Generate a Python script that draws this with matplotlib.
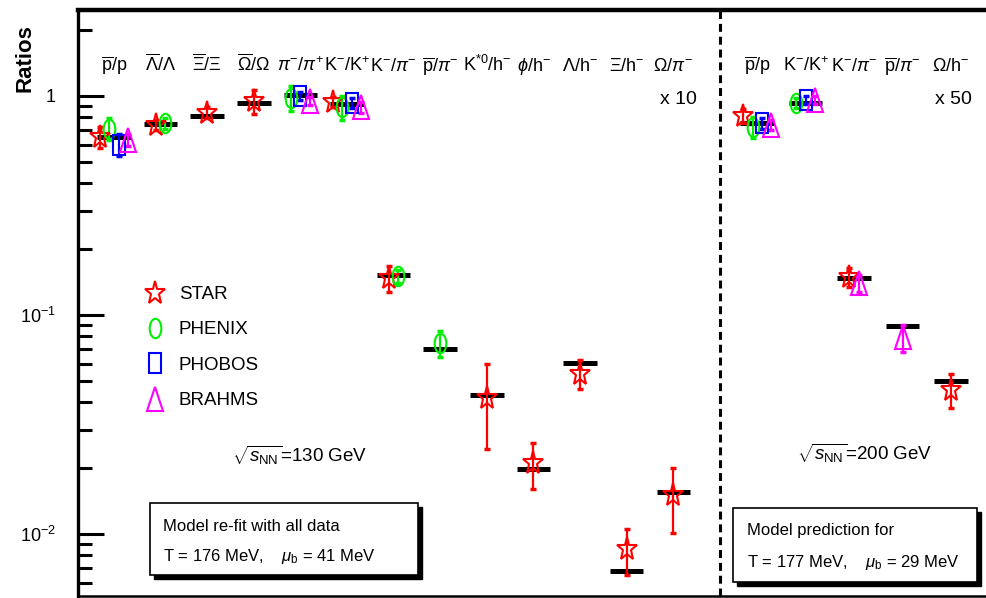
import numpy as np
import matplotlib
matplotlib.use("Agg")
import matplotlib.pyplot as plt
from matplotlib import font_manager
from matplotlib.lines import Line2D
from matplotlib.markers import MarkerStyle
from matplotlib.patches import Rectangle
from matplotlib.transforms import Affine2D

nan = np.nan

# --- particle ratios, sqrt(s_NN) = 130 GeV (left) and 200 GeV (right) ---
LABELS_130 = [r"$\overline{\mathrm{p}}/\mathrm{p}$", r"$\overline{\Lambda}/\Lambda$",
              r"$\overline{\Xi}/\Xi$", r"$\overline{\Omega}/\Omega$",
              r"$\pi^{-}/\pi^{+}$", r"$\mathrm{K}^{-}/\mathrm{K}^{+}$",
              r"$\mathrm{K}^{-}/\pi^{-}$", r"$\overline{\mathrm{p}}/\pi^{-}$",
              r"$\mathrm{K}^{*0}/\mathrm{h}^{-}$", r"$\phi/\mathrm{h}^{-}$",
              r"$\Lambda/\mathrm{h}^{-}$", r"$\Xi/\mathrm{h}^{-}$", r"$\Omega/\pi^{-}$"]
LABELS_200 = [r"$\overline{\mathrm{p}}/\mathrm{p}$", r"$\mathrm{K}^{-}/\mathrm{K}^{+}$",
              r"$\mathrm{K}^{-}/\pi^{-}$", r"$\overline{\mathrm{p}}/\pi^{-}$",
              r"$\Omega/\mathrm{h}^{-}$"]

MODEL_130 = [0.65, 0.745, 0.81, 0.93, 1.01, 0.92, 0.152, 0.070, 0.043, 0.0198, 0.0604, 0.0068, 0.0156]
MODEL_200 = [0.75, 0.93, 0.148, 0.089, 0.050]

STAR_130 = [0.65, 0.74, 0.84, 0.95, nan, 0.94, 0.148, nan, 0.042, 0.021, 0.054, 0.0085, 0.0151]
STAR_130_ERR = [0.07, 0.04, 0.05, 0.12, nan, 0.05, 0.02, nan, 0.0175, 0.005, 0.008, 0.002, 0.005]
PHENIX_130 = [0.71, 0.75, nan, nan, 0.98, 0.89, 0.150, 0.0745, nan, nan, nan, nan, nan]
PHENIX_130_ERR = [0.08, 0.04, nan, nan, 0.13, 0.11, 0.01, 0.01, nan, nan, nan, nan, nan]
PHOBOS_130 = [0.60, nan, nan, nan, 1.00, 0.93, nan, nan, nan, nan, nan, nan, nan]
PHOBOS_130_ERR = [0.07, nan, nan, nan, 0.04, 0.05, nan, nan, nan, nan, nan, nan, nan]
BRAHMS_130 = [0.63, nan, nan, nan, 0.95, 0.89, nan, nan, nan, nan, nan, nan, nan]
BRAHMS_130_ERR = [0.04, nan, nan, nan, 0.04, 0.05, nan, nan, nan, nan, nan, nan, nan]

STAR_200 = [0.81, nan, 0.149, nan, 0.0455]
STAR_200_ERR = [0.06, nan, 0.015, nan, 0.008]
PHENIX_200 = [0.72, 0.93, nan, nan, nan]
PHENIX_200_ERR = [0.08, 0.05, nan, nan, nan]
PHOBOS_200 = [0.75, 0.96, nan, nan, nan]
PHOBOS_200_ERR = [0.04, 0.04, nan, nan, nan]
BRAHMS_200 = [0.74, 0.96, 0.140, 0.079, nan]
BRAHMS_200_ERR = [0.04, 0.04, 0.012, 0.011, nan]

YTICKS = [0.01, 0.1, 1]
YTICK_LABELS = [r"$10^{-2}$", r"$10^{-1}$", "1"]

# fonts: Helvetica-like, narrow cut if there is one
names = {f.name for f in font_manager.fontManager.ttflist}
NARROW = "Liberation Sans Narrow" if "Liberation Sans Narrow" in names else "Liberation Sans"
plt.rcParams["font.family"] = [NARROW, "DejaVu Sans"]
plt.rcParams["mathtext.fontset"] = "custom"
plt.rcParams["mathtext.rm"] = NARROW
plt.rcParams["mathtext.it"] = NARROW + ":italic"
plt.rcParams["mathtext.bf"] = NARROW + ":bold"
plt.rcParams["mathtext.sf"] = NARROW

EXPERIMENTS = [
    ("STAR", "#ff0000", MarkerStyle("*", transform=Affine2D().scale(0.85, 1.0)), 17),
    ("PHENIX", "#00ee00", MarkerStyle("o", transform=Affine2D().scale(0.6, 1.0)), 14),
    ("PHOBOS", "#0000ff", MarkerStyle("s", transform=Affine2D().scale(0.65, 1.0)), 14),
    ("BRAHMS", "#ff00ff", MarkerStyle("^", transform=Affine2D().scale(0.7, 1.0)), 17),
]
DATA_130 = [(STAR_130, STAR_130_ERR), (PHENIX_130, PHENIX_130_ERR),
            (PHOBOS_130, PHOBOS_130_ERR), (BRAHMS_130, BRAHMS_130_ERR)]
DATA_200 = [(STAR_200, STAR_200_ERR), (PHENIX_200, PHENIX_200_ERR),
            (PHOBOS_200, PHOBOS_200_ERR), (BRAHMS_200, BRAHMS_200_ERR)]

x130 = np.arange(len(LABELS_130), dtype=float)
x200 = 13.8 + 1.04 * np.arange(len(LABELS_200))

fig = plt.figure(figsize=(9.87, 5.98), dpi=100)
ax = fig.add_axes([78 / 987, 2 / 598, 922 / 987, 586 / 598])
ax.set_yscale("log")
ax.set_xlim(-0.773, 19.01)
ax.set_ylim(0.00521, 2.47)


def draw_panel(xs, model, data):
    ax.hlines(model, xs - 0.36, xs + 0.36, colors="black", lw=3.6, zorder=2)
    vals = np.array([np.asarray(v, float) for v, _ in data])
    present = np.isfinite(vals)
    count = present.sum(axis=0)
    rank = np.cumsum(present, axis=0) - 1
    for k, ((name, color, marker, ms), (v, err)) in enumerate(zip(EXPERIMENTS, data)):
        v = np.asarray(v, float)
        err = np.asarray(err, float)
        m = np.isfinite(v)
        # spread the experiments sharing one ratio around its slot
        off = (rank[k] - (count - 1) / 2.0) * 0.2
        ax.errorbar(xs[m] + off[m], v[m], yerr=err[m], fmt="none", ecolor=color,
                    elinewidth=1.6, capsize=2.2, capthick=2.5, zorder=3)
        ax.plot(xs[m] + off[m], v[m], ls="none", marker=marker, ms=ms,
                mfc="none", mec=color, mew=1.5, zorder=4)


draw_panel(x130, MODEL_130, DATA_130)
draw_panel(x200, MODEL_200, DATA_200)

for x, lab in zip(x130, LABELS_130):
    ax.text(x, 1.30, lab, ha="center", va="baseline", fontsize=13)
for x, lab in zip(x200, LABELS_200):
    ax.text(x, 1.30, lab, ha="center", va="baseline", fontsize=13)
ax.text(x130[-1] + 0.1, 0.92, "x 10", ha="center", va="baseline", fontsize=14)
ax.text(x200[-1] + 0.05, 0.92, "x 50", ha="center", va="baseline", fontsize=14)

# separator between the two energies
ax.axvline(13.0, color="black", lw=2.2, ls=(0, (2.6, 1.6)), zorder=1)

ax.spines["right"].set_visible(False)
ax.spines["left"].set_linewidth(2.4)
ax.spines["top"].set_linewidth(3.2)
ax.spines["bottom"].set_linewidth(1.8)
ax.set_xticks([])
ax.set_yticks(YTICKS)
ax.set_yticklabels(YTICK_LABELS)
ax.tick_params(axis="y", which="major", direction="in", length=19, width=2.2, pad=16, labelsize=13)
ax.tick_params(axis="y", which="minor", direction="in", length=10, width=2.2)
ax.yaxis.set_minor_formatter(matplotlib.ticker.NullFormatter())
fig.text(25 / 987, 1 - 58 / 598, "Ratios", rotation=90, ha="center", va="center",
         fontsize=16, fontweight="bold", family="Liberation Sans")

# legend
handles = [Line2D([], [], ls="none", marker=mk, ms=ms, mfc="none", mec=c, mew=1.5)
           for _, c, mk, ms in EXPERIMENTS]
ax.legend(handles, [e[0] for e in EXPERIMENTS], loc="upper left",
          bbox_to_anchor=(0.0738, 0.529), frameon=False, fontsize=13.5,
          handlelength=1.0, handletextpad=0.75, labelspacing=0.97,
          borderaxespad=0, borderpad=0)

ax.text(0.167, 0.2406, r"$\sqrt{s_{\mathrm{NN}}}$=130 GeV", transform=ax.transAxes,
        ha="left", va="center", fontsize=13.5)
ax.text(0.780, 0.2440, r"$\sqrt{s_{\mathrm{NN}}}$=200 GeV", transform=ax.transAxes,
        ha="left", va="center", fontsize=13.5)


def shadow_box(x0, y0, x1, y1, lines, tx, ty):
    dx, dy = 4 / 922, 4 / 586
    ax.add_patch(Rectangle((x0 + dx, y0 - dy), x1 - x0, y1 - y0, transform=ax.transAxes,
                           facecolor="black", edgecolor="black", zorder=5))
    ax.add_patch(Rectangle((x0, y0), x1 - x0, y1 - y0, transform=ax.transAxes,
                           facecolor="white", edgecolor="black", lw=1.2, zorder=6))
    for t, yy in zip(lines, ty):
        ax.text(tx, yy, t, transform=ax.transAxes, ha="left", va="center",
                fontsize=12, zorder=7)


shadow_box(0.0781, 0.0358, 0.3688, 0.1587,
           ["Model re-fit with all data", r"T = 176 MeV,    $\mu_{\mathrm{b}}$ = 41 MeV"],
           0.0922, [0.1180, 0.0680])
shadow_box(0.7104, 0.0239, 0.9750, 0.1502,
           ["Model prediction for", r"T = 177 MeV,    $\mu_{\mathrm{b}}$ = 29 MeV"],
           0.7256, [0.1126, 0.0580])

fig.savefig("out.png", dpi=100)
